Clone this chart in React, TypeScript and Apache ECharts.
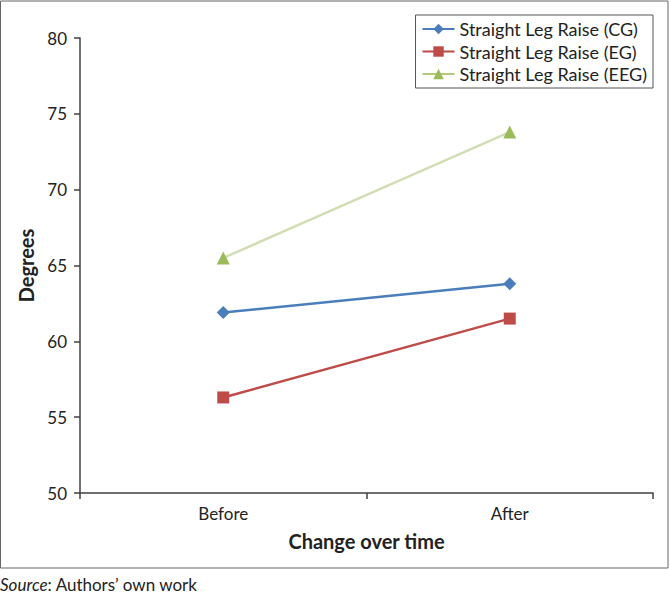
import React, { useEffect, useRef } from "react";
import * as echarts from "echarts";

const categories = ["Before", "After"];
const seriesNames = ["Straight Leg Raise (CG)", "Straight Leg Raise (EG)", "Straight Leg Raise (EEG)"];
const cgValues = [61.9, 63.8];
const egValues = [56.3, 61.5];
const eegValues = [65.5, 73.8];
const yTicks = { min: 50, max: 80, interval: 5 };

const FONT = "Lato";

export default function App() {
  const ref = useRef<HTMLDivElement>(null);
  useEffect(() => {
    document.body.style.margin = "0";
    const chart = echarts.init(ref.current!, null, { renderer: "svg" });
    chart.setOption({
      animation: false,
      backgroundColor: "#ffffff",
      textStyle: { fontFamily: FONT },
      grid: { left: 80, right: 17, top: 38, bottom: 102 },
      legend: {
        orient: "vertical",
        right: 17,
        top: 15,
        borderColor: "#555",
        borderWidth: 1,
        padding: [5, 6, 5, 6],
        itemWidth: 32,
        itemHeight: 13,
        itemGap: 4.5,
        textStyle: { fontFamily: FONT, fontSize: 18, lineHeight: 18, color: "#222" },
        data: [
          { name: seriesNames[0] },
          { name: seriesNames[1] },
          { name: seriesNames[2], lineStyle: { color: "#b4c97e" } },
        ],
      },
      xAxis: {
        type: "category",
        data: categories,
        boundaryGap: true,
        axisLine: { lineStyle: { color: "#404040", width: 1.5 } },
        axisTick: { show: true, length: 6, lineStyle: { color: "#404040", width: 1.5 } },
        axisLabel: { fontFamily: FONT, fontSize: 17, color: "#222", margin: 12 },
        name: "Change over time",
        nameLocation: "middle",
        nameGap: 38,
        nameTextStyle: { fontFamily: FONT, fontSize: 20, fontWeight: "bold", color: "#222" },
      },
      yAxis: {
        type: "value",
        min: yTicks.min,
        max: yTicks.max,
        interval: yTicks.interval,
        splitLine: { show: false },
        axisLine: { show: true, lineStyle: { color: "#404040", width: 1.5 } },
        axisTick: { show: true, length: 6, lineStyle: { color: "#404040", width: 1.5 } },
        axisLabel: { fontFamily: FONT, fontSize: 17, color: "#222", margin: 13 },
        name: "Degrees",
        nameLocation: "middle",
        nameGap: 41,
        nameRotate: 90,
        nameTextStyle: { fontFamily: FONT, fontSize: 20, fontWeight: "bold", color: "#222" },
      },
      series: [
        {
          name: seriesNames[0],
          type: "line",
          data: cgValues,
          symbol: "diamond",
          symbolSize: 13,
          itemStyle: { color: "#4a7ebb" },
          lineStyle: { color: "#4a7ebb", width: 2.5 },
        },
        {
          name: seriesNames[1],
          type: "line",
          data: egValues,
          symbol: "rect",
          symbolSize: 12,
          itemStyle: { color: "#be4b48" },
          lineStyle: { color: "#be4b48", width: 2.5 },
        },
        {
          name: seriesNames[2],
          type: "line",
          data: eegValues,
          symbol: "triangle",
          symbolSize: 13,
          itemStyle: { color: "#9bbb59" },
          lineStyle: { color: "#d1ddb2", width: 2.5 },
        },
      ],
      graphic: [
        {
          type: "rect",
          shape: { x: 0.5, y: 1, width: 667.5, height: 567 },
          style: { fill: "none", stroke: "#666", lineWidth: 1 },
          silent: true,
        },
        {
          type: "text",
          left: 0,
          top: 576,
          style: {
            text: "{i|Source}: Authors\u2019 own work",
            fontFamily: FONT,
            fontSize: 17,
            fill: "#222",
            rich: {
              i: { fontStyle: "italic", fontFamily: FONT, fontSize: 17, fill: "#222" },
            },
          },
        },
      ],
    });
    return () => chart.dispose();
  }, []);
  return <div ref={ref} style={{ width: 670, height: 595 }} />;
}
